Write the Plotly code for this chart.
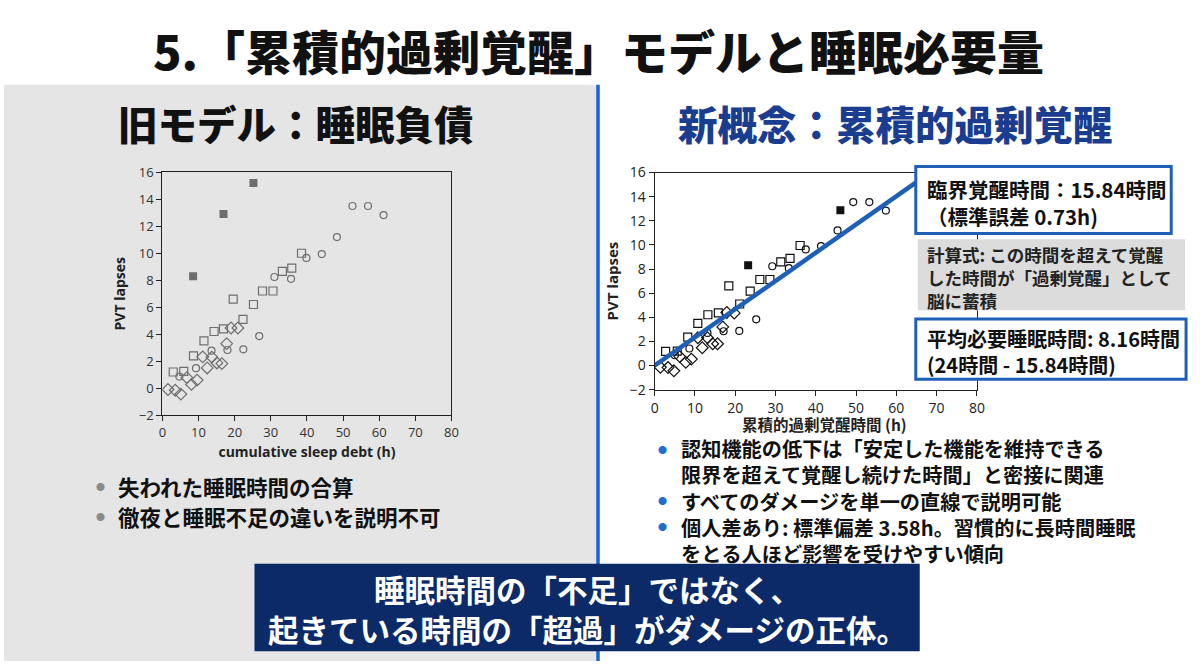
import plotly.graph_objects as go

W, H = 1200, 670

# ---------------- data ----------------
x_ticks = [0, 10, 20, 30, 40, 50, 60, 70, 80]
y_ticks = [-2, 0, 2, 4, 6, 8, 10, 12, 14, 16]

# old model: cumulative sleep debt
old_sqf_x = [8.5, 16.9, 25.2]
old_sqf_y = [8.3, 12.9, 15.2]
old_sq_x = [3.0, 5.9, 8.6, 11.5, 14.3, 16.9, 19.6, 22.3, 25.2, 27.7, 30.6, 33.2, 35.8, 38.5]
old_sq_y = [1.2, 1.25, 2.4, 3.5, 4.2, 4.4, 6.6, 5.1, 6.2, 7.2, 7.2, 8.65, 8.9, 10.0]
old_ci_x = [4.7, 9.3, 13.6, 18.0, 22.4, 26.8, 31.0, 35.6, 39.85, 44.1, 48.3, 52.6, 56.9, 61.2]
old_ci_y = [0.86, 1.48, 2.78, 2.83, 2.88, 3.86, 8.24, 8.1, 9.65, 9.94, 11.2, 13.5, 13.5, 12.83]
old_di_x = [1.55, 3.56, 5.1, 6.76, 8.04, 9.6, 11.15, 12.4, 13.7, 15.1, 16.45, 17.8, 19.0, 20.9]
old_di_y = [-0.1, -0.15, -0.44, 0.78, 0.28, 0.6, 2.32, 1.5, 2.3, 1.87, 1.82, 3.3, 4.46, 4.46]

# new concept: cumulative excess wakefulness
new_sqf_x = [23.2, 46.1]
new_sqf_y = [8.31, 12.88]
new_sq_x = [2.7, 5.6, 8.2, 10.7, 13.2, 15.8, 18.4, 21.1, 23.7, 26.1, 28.6, 31.3, 33.6, 36.1]
new_sq_y = [1.17, 1.2, 2.36, 3.49, 4.21, 4.37, 6.6, 5.1, 6.17, 7.13, 7.13, 8.6, 8.88, 9.95]
new_ci_x = [5.0, 8.6, 13.1, 17.1, 21.0, 25.2, 29.2, 33.3, 37.5, 41.3, 45.4, 49.3, 53.3, 57.4]
new_ci_y = [0.85, 1.41, 2.7, 2.84, 2.87, 3.83, 8.23, 8.07, 9.63, 9.9, 11.2, 13.55, 13.55, 12.85]
new_di_x = [1.4, 3.3, 4.75, 6.2, 7.7, 9.1, 10.7, 11.8, 13.1, 14.4, 15.6, 16.9, 17.9, 19.75]
new_di_y = [-0.15, -0.17, -0.44, 0.74, 0.26, 0.53, 2.3, 1.47, 2.3, 1.8, 1.8, 3.2, 4.4, 4.34]

fit_x = [0, 65]
fit_y = [0, 15.2]

title_text = "5.「累積的過剰覚醒」モデルと睡眠必要量"
left_head = "旧モデル：睡眠負債"
right_head = "新概念：累積的過剰覚醒"
right_x_title = "累積的過剰覚醒時間 (h)"
left_bullets = ["失われた睡眠時間の合算", "徹夜と睡眠不足の違いを説明不可"]
right_bullet_lines = [
    "認知機能の低下は「安定した機能を維持できる",
    "限界を超えて覚醒し続けた時間」と密接に関連",
    "すべてのダメージを単一の直線で説明可能",
    "個人差あり: 標準偏差 3.58h。習慣的に長時間睡眠",
    "をとる人ほど影響を受けやすい傾向",
]
right_bullet_starts = [0, 2, 3]
box1_lines = ["臨界覚醒時間：15.84時間", "（標準誤差 0.73h)"]
box2_lines = ["計算式: この時間を超えて覚醒", "した時間が「過剰覚醒」として", "脳に蓄積"]
box3_lines = ["平均必要睡眠時間: 8.16時間", "(24時間 - 15.84時間)"]
banner_lines = ["睡眠時間の「不足」ではなく、", "起きている時間の「超過」がダメージの正体。"]

# ---------------- helpers ----------------
def px(x):
    return x / W

def py(y):
    return 1 - y / H

CJK = "Noto Sans CJK JP"
LAT = "Open Sans"
BLUE = "#1e60b8"

fig = go.Figure()

old_col = "#6e6e6e"
new_col = "#111111"

def open_mk(sym, size, color, lw=1.2):
    return dict(symbol=sym, size=size, color=color, line=dict(color=color, width=lw))

# left chart traces
fig.add_trace(go.Scatter(x=old_di_x, y=old_di_y, mode="markers", xaxis="x", yaxis="y",
                         marker=open_mk("diamond-open", 9, old_col)))
fig.add_trace(go.Scatter(x=old_ci_x, y=old_ci_y, mode="markers", xaxis="x", yaxis="y",
                         marker=open_mk("circle-open", 7, old_col)))
fig.add_trace(go.Scatter(x=old_sq_x, y=old_sq_y, mode="markers", xaxis="x", yaxis="y",
                         marker=open_mk("square-open", 8, old_col)))
fig.add_trace(go.Scatter(x=old_sqf_x, y=old_sqf_y, mode="markers", xaxis="x", yaxis="y",
                         marker=dict(symbol="square", size=8, color=old_col)))

# right chart traces
fig.add_trace(go.Scatter(x=new_di_x, y=new_di_y, mode="markers", xaxis="x2", yaxis="y2",
                         marker=open_mk("diamond-open", 9, new_col)))
fig.add_trace(go.Scatter(x=new_ci_x, y=new_ci_y, mode="markers", xaxis="x2", yaxis="y2",
                         marker=open_mk("circle-open", 7, new_col)))
fig.add_trace(go.Scatter(x=new_sq_x, y=new_sq_y, mode="markers", xaxis="x2", yaxis="y2",
                         marker=open_mk("square-open", 8, new_col)))
fig.add_trace(go.Scatter(x=new_sqf_x, y=new_sqf_y, mode="markers", xaxis="x2", yaxis="y2",
                         marker=dict(symbol="square", size=8, color=new_col)))
fig.add_trace(go.Scatter(x=fit_x, y=fit_y, mode="lines", xaxis="x2", yaxis="y2",
                         line=dict(color=BLUE, width=4.5)))

axis_common = dict(showline=True, linecolor="#222", linewidth=1.2, mirror=True,
                   ticks="outside", ticklen=5, tickcolor="#222", showgrid=False,
                   zeroline=False)

fig.update_layout(
    width=W, height=H, margin=dict(l=0, r=0, t=0, b=0),
    paper_bgcolor="white", plot_bgcolor="rgba(0,0,0,0)", showlegend=False,
    xaxis=dict(domain=[px(160), px(452)], range=[0, 80], tickvals=x_ticks, anchor="y",
               tickfont=dict(family=LAT, size=13, color="#333"),
               title=dict(text="<b>cumulative sleep debt (h)</b>", standoff=7,
                          font=dict(family=LAT, size=14, color="#222")), **axis_common),
    yaxis=dict(domain=[py(417), py(167)], range=[-2, 16], tickvals=y_ticks, anchor="x",
               tickfont=dict(family=LAT, size=13, color="#333"),
               title=dict(text="<b>PVT lapses</b>", standoff=9,
                          font=dict(family=LAT, size=14, color="#222")), **axis_common),
    xaxis2=dict(domain=[px(657.3), px(982.7)], range=[0, 80], tickvals=x_ticks, anchor="y2",
                tickfont=dict(family=LAT, size=14, color="#222"), **axis_common),
    yaxis2=dict(domain=[py(390.7), py(167.3)], range=[-2, 16], tickvals=y_ticks, anchor="x2",
                tickfont=dict(family=LAT, size=14, color="#222"),
                title=dict(text="<b>PVT lapses</b>", standoff=7,
                           font=dict(family=LAT, size=15, color="#222")), **axis_common),
)

shapes = []
shapes.append(dict(type="rect", xref="paper", yref="paper", x0=0, x1=px(599), y0=0, y1=py(77),
                   fillcolor="#e5e5e5", line=dict(width=0), layer="below"))
shapes.append(dict(type="line", xref="paper", yref="paper", x0=px(600), x1=px(600), y0=0, y1=py(77),
                   line=dict(color="#1565d8", width=3.5), layer="above"))
shapes.append(dict(type="rect", xref="paper", yref="paper", x0=px(921), x1=px(1179), y0=py(230), y1=py(161),
                   fillcolor="white", line=dict(color=BLUE, width=3), layer="above"))
shapes.append(dict(type="rect", xref="paper", yref="paper", x0=px(923), x1=px(1193), y0=py(309), y1=py(236),
                   fillcolor="#dcdcdc", line=dict(width=0), layer="above"))
shapes.append(dict(type="rect", xref="paper", yref="paper", x0=px(921), x1=px(1194), y0=py(380), y1=py(318),
                   fillcolor="white", line=dict(color=BLUE, width=3), layer="above"))
shapes.append(dict(type="rect", xref="paper", yref="paper", x0=px(253), x1=px(925), y0=py(660), y1=py(570),
                   fillcolor="#0c2a68", line=dict(width=0), layer="above"))
fig.update_layout(shapes=shapes)

ann = []
def text(x, y, s, size, color="#111", xanchor="left", family=CJK, bold=True, weight=None, align="left"):
    f = dict(family=family, size=size, color=color)
    if weight:
        f["weight"] = weight
        s_out = s
    else:
        s_out = f"<b>{s}</b>" if bold else s
    ann.append(dict(xref="paper", yref="paper", x=px(x), y=py(y), xanchor=xanchor, yanchor="middle",
                    text=s_out, showarrow=False, font=f, align=align, borderpad=0))

text(600, 41, title_text, 47, "#111", "center", weight=900)
text(295, 116, left_head, 39.5, "#111", "center", weight=900)
text(900, 116, right_head, 39.5, "#1a3d8f", "center", weight=900)

# right x-axis title
text(829, 426, right_x_title, 15.5, "#222", "center")

for i, s in enumerate(left_bullets):
    yy = 490 + i * 31
    text(97, yy, "●", 9, "#8a8a8a", "center", bold=False)
    text(114, yy, s, 21.5, "#111")

# right bullets: one block of text, dots aligned with the bullet-starting lines
rb_size = 20.2
rb_step = rb_size * 1.3
rb_center = 505
rb_first = rb_center - rb_step * (len(right_bullet_lines) - 1) / 2
text(683, rb_center, "<br>".join(right_bullet_lines), rb_size, "#111")
for k in right_bullet_starts:
    text(665, rb_first + k * rb_step, "●", 9, "#1f6fd0", "center", bold=False)

text(931, 198, "<br>".join(box1_lines), 20.5, "#111")
text(931, 275, "<br>".join(box2_lines), 17.5, "#222")
text(931, 351, "<br>".join(box3_lines), 20, "#111")

text(589, 616.5, "<br>".join(banner_lines), 30.5, "white", "center", align="center")

fig.update_layout(annotations=ann)
fig.write_html("out.html", config={"displayModeBar": False},
               post_script="document.body.style.margin='0';document.body.style.overflow='hidden';")
